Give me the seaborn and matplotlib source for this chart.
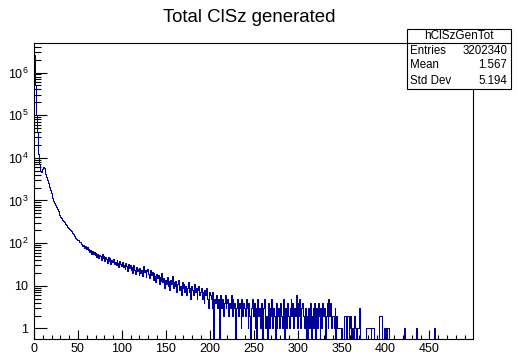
import numpy as np
import pandas as pd
import matplotlib
matplotlib.use("Agg")
import matplotlib.pyplot as plt
import seaborn as sns
from matplotlib.patches import Rectangle
from matplotlib.lines import Line2D

# ---------------- data ----------------
title = "Total ClSz generated"
hist_name = "hClSzGenTot"
stat_labels = ["Entries", "Mean", "Std Dev"]
stat_values = ["3202340", "1.567", "5.194"]

x_min, x_max, bin_width = 0, 499, 1

counts = [
    2600000, 500000, 100000, 40000, 20000, 12000, 7000, 4800, 4600, 5500,  # 0
    6000, 5800, 5000, 4200, 3500, 2950, 2500, 2100, 1800, 1520,            # 10
    1300, 1120, 980, 880, 790, 700, 620, 560, 500, 450,                    # 20
    410, 380, 350, 330, 305, 285, 270, 255, 240, 230,                      # 30
    220, 205, 196, 176, 168, 150, 146, 133, 128, 117,                      # 40
    118, 104, 109, 93, 97, 84, 92, 78, 86, 73,                             # 50
    80, 68, 74, 61, 70, 57, 66, 55, 63, 52,                                # 60
    60, 47, 56, 44, 53, 49, 41, 55, 45, 50,                                # 70
    38, 48, 42, 35, 46, 39, 44, 33, 41, 37,                                # 80
    43, 32, 37, 30, 40, 35, 28, 38, 33, 29,                                # 90
    36, 27, 31, 25, 34, 29, 22, 32, 26, 30,                                # 100
    24, 28, 20, 31, 23, 19, 27, 22, 25, 18,                                # 110
    26, 20, 23, 17, 29, 21, 24, 16, 22, 25,                                # 120
    19, 15, 23, 18, 21, 14, 20, 17, 12, 19,                                # 130
    15, 18, 11, 16, 13, 20, 12, 15, 9, 14,                                 # 140
    11, 16, 10, 13, 8, 14, 11, 17, 9, 12,                                  # 150
    10, 13, 7, 11, 14, 8, 10, 6, 12, 9,                                    # 160
    11, 7, 10, 6, 9, 12, 7, 9, 5, 10,                                      # 170
    8, 6, 11, 7, 9, 5, 8, 10, 6, 7,                                        # 180
    9, 5, 7, 4, 8, 6, 9, 5, 3, 7,                                          # 190
    6, 5, 3, 7, 0, 5, 4, 6, 3, 5,                                          # 200
    4, 0, 6, 3, 5, 2, 4, 6, 3, 4,                                          # 210
    5, 2, 4, 3, 6, 2, 5, 3, 4, 0,                                          # 220
    3, 5, 2, 4, 3, 1, 5, 2, 4, 3,                                          # 230
    2, 5, 3, 1, 4, 2, 0, 3, 5, 2,                                          # 240
    4, 1, 3, 0, 5, 2, 3, 1, 4, 2,                                          # 250
    0, 3, 5, 1, 2, 0, 4, 1, 3, 2,                                          # 260
    5, 1, 3, 2, 0, 4, 1, 2, 3, 1,                                          # 270
    4, 2, 1, 5, 2, 0, 3, 1, 4, 2,                                          # 280
    1, 3, 5, 2, 4, 1, 3, 2, 6, 1,                                          # 290
    4, 2, 5, 1, 3, 4, 2, 1, 3, 0,                                          # 300
    2, 0, 3, 1, 4, 0, 2, 3, 1, 4,                                          # 310
    0, 3, 1, 4, 2, 0, 3, 1, 4, 2,                                          # 320
    3, 0, 2, 4, 1, 5, 2, 4, 1, 2,                                          # 330
    2, 1, 3, 0, 2, 1, 1, 1, 1, 0,                                          # 340
    1, 0, 0, 2, 2, 0, 2, 2, 0, 1,                                          # 350
    2, 0, 1, 0, 2, 1, 0, 1, 1, 1,                                          # 360
    3, 0, 0, 0, 0, 0, 0, 0, 1, 1,                                          # 370
    1, 1, 1, 0, 1, 1, 1, 0, 0, 0,                                          # 380
    0, 0, 0, 2, 2, 2, 0, 0, 1, 0,                                          # 390
    1, 0, 1, 1, 0, 0, 0, 0, 0, 0,                                          # 400
    0, 0, 0, 0, 0, 0, 0, 0, 0, 0,                                          # 410
    0, 1, 0, 0, 0, 0, 0, 0, 0, 0,                                          # 420
    0, 0, 0, 0, 0, 1, 0, 0, 0, 0,                                          # 430
    0, 0, 0, 0, 0, 0, 0, 0, 0, 0,                                          # 440
    0, 0, 0, 0, 0, 1, 0, 0, 0, 0,                                          # 450
]

x_ticks = [0, 50, 100, 150, 200, 250, 300, 350, 400, 450]
y_ticks = [1, 10, 100, 1000, 10000, 100000, 1000000]
y_tick_labels = ["1", "10", r"$\mathregular{10^{2}}$", r"$\mathregular{10^{3}}$",
                 r"$\mathregular{10^{4}}$", r"$\mathregular{10^{5}}$", r"$\mathregular{10^{6}}$"]

# ---------------- style ----------------
sns.set_style("white")
plt.rcParams["font.family"] = ["Liberation Sans", "DejaVu Sans"]
plt.rcParams["mathtext.fontset"] = "custom"
plt.rcParams["mathtext.rm"] = "Liberation Sans"
plt.rcParams["mathtext.it"] = "Liberation Sans:italic"
plt.rcParams["mathtext.bf"] = "Liberation Sans:bold"
for k in ["text.color", "axes.labelcolor", "xtick.color", "ytick.color", "axes.edgecolor"]:
    plt.rcParams[k] = "black"

W, H = 517, 357
fig = plt.figure(figsize=(W / 100, H / 100), dpi=100)
fig.patch.set_facecolor("white")

ax_l, ax_r, ax_t, ax_b = 34.0, 472.5, 42.7, 338.5
ax = fig.add_axes([ax_l / W, 1 - ax_b / H, (ax_r - ax_l) / W, (ax_b - ax_t) / H])

n_bins = len(counts)
centers = [x_min + bin_width * (i + 0.5) for i in range(n_bins)]
df = pd.DataFrame({"x": centers, "w": counts})
sns.histplot(data=df, x="x", weights="w", binwidth=bin_width,
             binrange=(x_min, x_min + n_bins * bin_width), element="step", fill=False,
             color="#000099", linewidth=0.75, ax=ax)
ax.set_yscale("log", nonpositive="clip")
ax.set_xlim(x_min, x_max)
ax.set_ylim(0.58, 5.0e6)

ax.set_xlabel("")
ax.set_ylabel("")
ax.set_xticks(x_ticks)
ax.set_xticklabels([str(t) for t in x_ticks])
ax.set_xticks(np.arange(0, 500, 10), minor=True)
ax.set_yticks(y_ticks)
ax.set_yticklabels(y_tick_labels)
minor_y = [m * 10 ** e for e in range(0, 7) for m in range(2, 10)]
ax.set_yticks([v for v in minor_y if v < 5.0e6], minor=True)
ax.yaxis.set_minor_formatter(matplotlib.ticker.NullFormatter())

ax.tick_params(axis="x", which="major", direction="in", length=6.4, width=0.8,
               labelsize=9, pad=3, bottom=True, top=False, color="black")
ax.tick_params(axis="x", which="minor", direction="in", length=3.2, width=0.8,
               bottom=True, top=False, color="black")
ax.tick_params(axis="y", which="major", direction="in", length=9.4, width=0.8,
               labelsize=9, pad=4, left=True, right=False, color="black")
ax.tick_params(axis="y", which="minor", direction="in", length=4.7, width=0.8,
               left=True, right=False, color="black")
for s in ax.spines.values():
    s.set_visible(True)
    s.set_color("black")
    s.set_linewidth(0.8)
ax.grid(False)

# title
fig.text(249.5 / W, 1 - 17.5 / H, title, ha="center", va="center", fontsize=13.4)

# stats box
bx0, bx1, by0, by1, bsep = 406.5, 510.5, 29.0, 88.5, 42.5
fig.add_artist(Rectangle((bx0 / W, 1 - by1 / H), (bx1 - bx0) / W, (by1 - by0) / H,
                         transform=fig.transFigure, facecolor="white",
                         edgecolor="black", linewidth=0.8, zorder=5))
fig.add_artist(Line2D([bx0 / W, bx1 / W], [1 - bsep / H, 1 - bsep / H],
                      transform=fig.transFigure, color="black", linewidth=0.8, zorder=6))
fig.text((bx0 + bx1) / 2 / W, 1 - 35.8 / H, hist_name, ha="center", va="center",
         fontsize=8.5, zorder=7)
row_y = [50.5, 65.5, 80.5]
for lab, val, yy in zip(stat_labels, stat_values, row_y):
    fig.text((bx0 + 3.5) / W, 1 - yy / H, lab, ha="left", va="center", fontsize=8.3, zorder=7)
    fig.text((bx1 - 3) / W, 1 - yy / H, val, ha="right", va="center", fontsize=8.3, zorder=7)

fig.savefig("out.png", dpi=100)
